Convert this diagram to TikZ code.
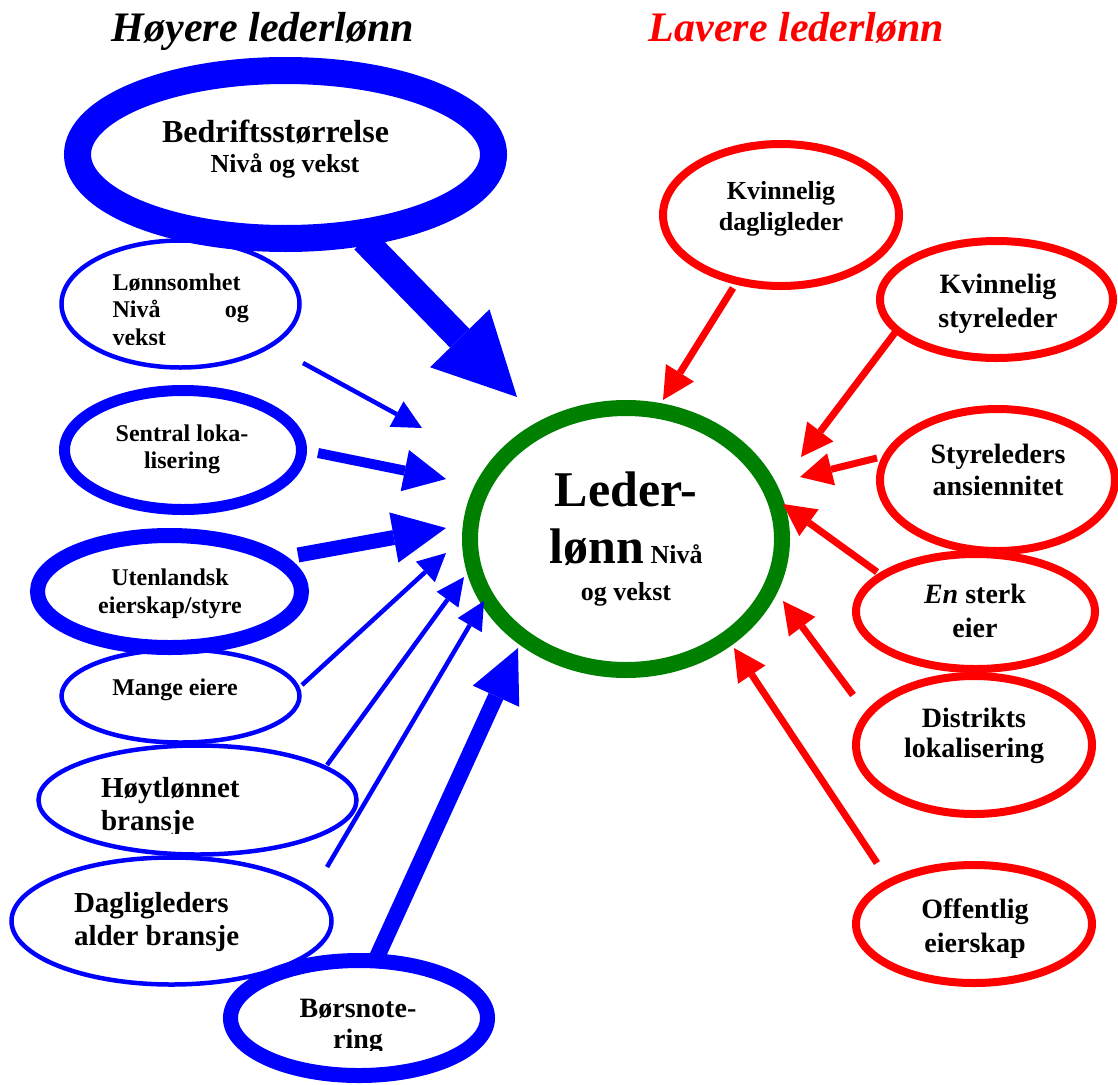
\documentclass[tikz,border=0pt]{standalone}
\usepackage{fontspec}
\setmainfont{Liberation Serif}
\usetikzlibrary{shapes.geometric,arrows.meta}
\definecolor{grn}{RGB}{0,128,0}
\newcommand\setfs[2]{\fontsize{#1}{#2}\selectfont}
\tikzset{
  ell/.style n args={4}{ellipse, draw=#1, fill=white, line width=#2, minimum width=#3, minimum height=#4, inner sep=0pt, outer sep=0pt},
  lbl/.style={text=black, inner sep=0pt, outer sep=0pt, anchor=base, align=center},
  lblw/.style={text=black, inner sep=0pt, outer sep=0pt, anchor=base west, align=left},
  harrow/.style n args={4}{draw=#1, line width=#2, -{Triangle[length=#3, width=#4, line width=0pt]}},
  ttl/.style={inner sep=0pt, outer sep=0pt, anchor=base, font=\setfs{42}{48}\bfseries\itshape}
}
\begin{document}
\begin{tikzpicture}[x=1pt,y=-1pt]
\fill[white] (0,0) rectangle (1118,1084);
\useasboundingbox (0,0) rectangle (1118,1084);

% titles
\node[ttl, text=black] (t-hi) at (263,41) {Høyere lederlønn};
\node[ttl, text=red] (t-lo) at (796.5,41) {Lavere lederlønn};

% blue ellipses
\node[ell={blue}{4.5pt}{238pt}{127pt}] (lonn) at (180.5,304) {};
\node[ell={blue}{27pt}{416pt}{168pt}] (bedrift) at (285.5,154.5) {};
\node[ell={blue}{11pt}{237pt}{119pt}] (sentral) at (183,450) {};
\node[ell={blue}{4.5pt}{238pt}{93pt}] (mange) at (180.5,696) {};
\node[ell={blue}{15pt}{264pt}{112pt}] (utenl) at (169.5,591.5) {};
\node[ell={blue}{4.5pt}{318pt}{109pt}] (hoyt) at (197.5,800) {};
\node[ell={blue}{4.5pt}{320pt}{127pt}] (dagl) at (171.5,921) {};
\node[ell={blue}{15pt}{257pt}{115pt}] (bors) at (359,1018) {};

% centre
\node[ell={grn}{16pt}{312pt}{262pt}] (ctr) at (626,539) {};

% red ellipses
\node[ell={red}{8pt}{236pt}{142pt}] (kd) at (781,215) {};
\node[ell={red}{8pt}{233pt}{117pt}] (ks) at (996.5,299.5) {};
\node[ell={red}{8pt}{235pt}{142pt}] (sa) at (997.5,480) {};
\node[ell={red}{8pt}{239pt}{115pt}] (es) at (975.5,611.5) {};
\node[ell={red}{8pt}{236pt}{138pt}] (di) at (974,745) {};
\node[ell={red}{8pt}{236pt}{118pt}] (of) at (974,924) {};

% labels left (anchor base = last line)
\node[lbl, font=\setfs{32}{30}\bfseries] (bedrift-t) at (275.5,172) {Bedriftsstørrelse\\\hspace*{19pt}{\setfs{26}{30}Nivå og vekst}};
\begin{scope}
\clip (100,260) rectangle (270,344.5);
\node[lblw, text width=136.5pt, font=\setfs{24}{27.5}\bfseries] (lonn-t) at (112.5,290) {Lønnsomhet\\Nivå\hfill og\\vekst};
\end{scope}
\node[lbl, font=\setfs{24}{27}\bfseries] (sentral-t) at (182,468) {Sentral loka-\\lisering};
\node[lbl, font=\setfs{24}{28}\bfseries] (utenl-t) at (170,613) {Utenlandsk\\eierskap/styre};
\node[lbl, font=\setfs{24}{28}\bfseries] (mange-t) at (175,695) {Mange eiere};
\begin{scope}
\clip (90,770) rectangle (300,833);
\node[lblw, font=\setfs{29}{33}\bfseries] (hoyt-t) at (101,830) {Høytlønnet\\bransje};
\end{scope}
\node[lblw, font=\setfs{29}{33}\bfseries] (dagl-t) at (74,945) {Dagligleders\\alder bransje};
\begin{scope}
\clip (280,985) rectangle (440,1050);
\node[lbl, font=\setfs{28}{31}\bfseries] (bors-t) at (358,1048) {Børsnote-\\ring};
\end{scope}

% centre label
\node[lbl, font=\setfs{50}{57}\bfseries] (ctr-t) at (626,600) {Leder-\\lønn{\setfs{26}{57} Nivå}\\[-20pt]{\setfs{26}{57}og vekst}};

% labels right
\node[lbl, font=\setfs{26}{31}\bfseries] (kd-t) at (781,230) {Kvinnelig\\dagligleder};
\node[lbl, font=\setfs{28}{34}\bfseries] (ks-t) at (998,327) {Kvinnelig\\styreleder};
\node[lbl, font=\setfs{28}{32}\bfseries] (sa-t) at (998,495) {Styreleders\\ansiennitet};
\node[lbl, font=\setfs{28}{34}\bfseries] (es-t) at (975,637) {\textit{En} sterk\\eier};
\node[lbl, font=\setfs{28}{30}\bfseries] (di-t) at (974,757) {Distrikts\\lokalisering};
\node[lbl, font=\setfs{28}{34}\bfseries] (of-t) at (975,952) {Offentlig\\eierskap};

% arrow end points
\coordinate (a1s) at (364,240);  \coordinate (a1e) at (517,397);
\coordinate (a2s) at (303,363);  \coordinate (a2e) at (422,428);
\coordinate (a3s) at (318,453);  \coordinate (a3e) at (446,479);
\coordinate (a4s) at (298,555);  \coordinate (a4e) at (446,528);
\coordinate (a5s) at (302,685);  \coordinate (a5e) at (446,553);
\coordinate (a6s) at (327,765);  \coordinate (a6e) at (464,577);
\coordinate (a7s) at (327,867);  \coordinate (a7e) at (484,601);
\coordinate (a8s) at (377,957);  \coordinate (a8e) at (518,648);
\coordinate (r1s) at (733,288);  \coordinate (r1e) at (663,400);
\coordinate (r2s) at (897,330);  \coordinate (r2e) at (801,457);
\coordinate (r3s) at (877,458);  \coordinate (r3e) at (800,477);
\coordinate (r4s) at (877,572);  \coordinate (r4e) at (783,504);
\coordinate (r5s) at (853,695);  \coordinate (r5e) at (783,601);
\coordinate (r6s) at (877,863);  \coordinate (r6e) at (734,648);

% blue arrows
\draw[harrow={blue}{27pt}{82pt}{83pt}] (a1s) -- (a1e);
\draw[harrow={blue}{4.5pt}{29pt}{29pt}] (a2s) -- (a2e);
\draw[harrow={blue}{10pt}{42pt}{42pt}] (a3s) -- (a3e);
\draw[harrow={blue}{15pt}{53pt}{51pt}] (a4s) -- (a4e);
\draw[harrow={blue}{4.5pt}{28pt}{28pt}] (a5s) -- (a5e);
\draw[harrow={blue}{4.5pt}{28pt}{27pt}] (a6s) -- (a6e);
\draw[harrow={blue}{4.5pt}{28pt}{28pt}] (a7s) -- (a7e);
\draw[harrow={blue}{16pt}{53pt}{51pt}] (a8s) -- (a8e);

% red arrows
\draw[harrow={red}{7pt}{32pt}{33pt}] (r1s) -- (r1e);
\draw[harrow={red}{7pt}{32pt}{33pt}] (r2s) -- (r2e);
\draw[harrow={red}{7pt}{32pt}{33pt}] (r3s) -- (r3e);
\draw[harrow={red}{7pt}{32pt}{33pt}] (r4s) -- (r4e);
\draw[harrow={red}{7pt}{32pt}{33pt}] (r5s) -- (r5e);
\draw[harrow={red}{7pt}{32pt}{33pt}] (r6s) -- (r6e);
\end{tikzpicture}
\end{document}
